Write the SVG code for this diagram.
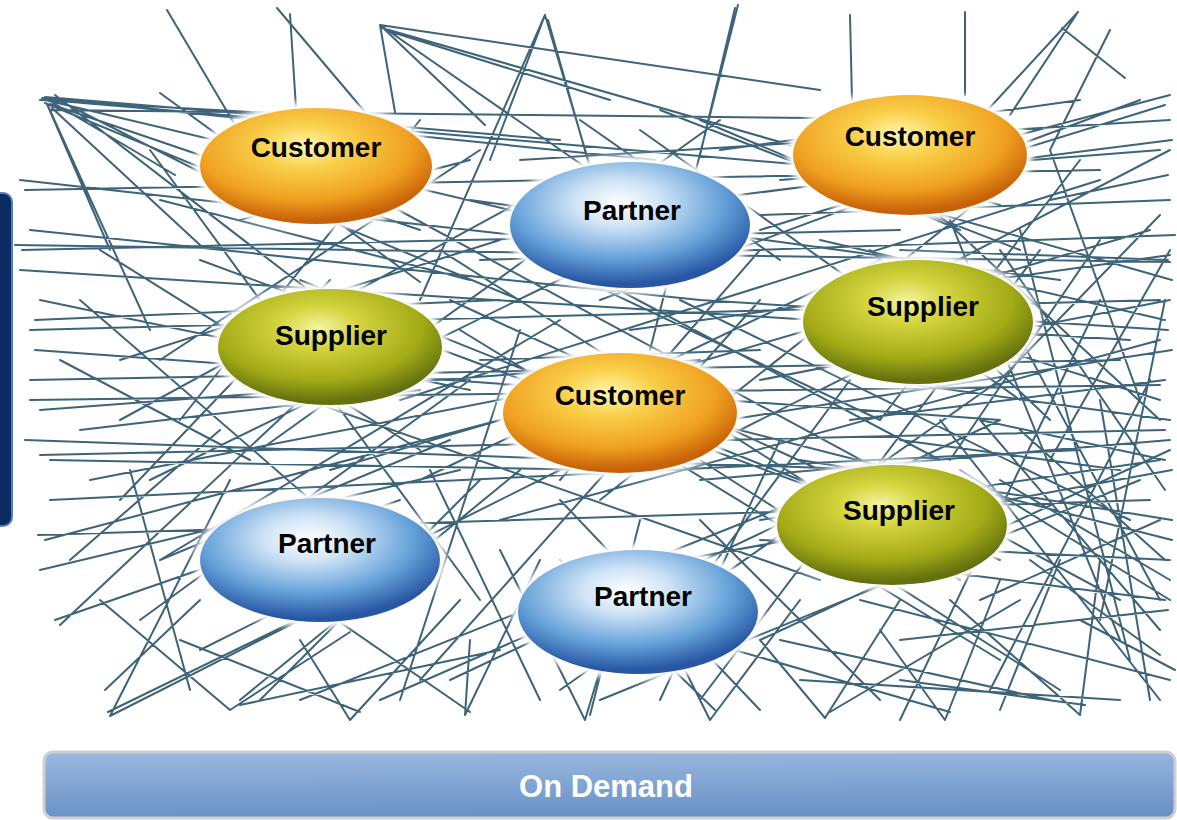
<svg xmlns="http://www.w3.org/2000/svg" width="1177" height="820" viewBox="0 0 1177 820">
<style>
.lbl{font-family:"Liberation Sans",Arial,sans-serif;font-weight:bold;font-size:28px;fill:#000;text-anchor:middle}
.mesh{fill:none;stroke:#3e6479;stroke-width:2;stroke-linecap:round}
.halo{fill:#fff;filter:url(#blur)}
</style>
<defs>
<filter id="blur" x="-20%" y="-20%" width="140%" height="140%"><feGaussianBlur stdDeviation="3"/></filter>
<radialGradient id="gCust" cx="45%" cy="33%" r="64%">
<stop offset="0" stop-color="#fff7b0"/><stop offset="0.3" stop-color="#f9d04a"/><stop offset="0.72" stop-color="#f0a020"/><stop offset="1" stop-color="#c86208"/>
</radialGradient>
<radialGradient id="gPart" cx="45%" cy="33%" r="64%">
<stop offset="0" stop-color="#ffffff"/><stop offset="0.28" stop-color="#d0e4f6"/><stop offset="0.68" stop-color="#66a2da"/><stop offset="1" stop-color="#2756a2"/>
</radialGradient>
<radialGradient id="gSupp" cx="45%" cy="33%" r="64%">
<stop offset="0" stop-color="#f4f4a0"/><stop offset="0.28" stop-color="#d4d43e"/><stop offset="0.72" stop-color="#a2aa16"/><stop offset="1" stop-color="#64720e"/>
</radialGradient>
<linearGradient id="gBar" x1="0" y1="0" x2="0.1" y2="1">
<stop offset="0" stop-color="#9ab9e0"/><stop offset="1" stop-color="#6a92c6"/>
</linearGradient>
</defs>
<rect x="0" y="0" width="1177" height="820" fill="#fff"/>
<rect id="sidebar" x="-12" y="193" width="24" height="333" rx="9" fill="#0b2c62" stroke="#5b7bb2" stroke-width="2"/>
<g id="connectors">
<path class="mesh" d="M45 97L330 128M45 97L560 140M48 100L805 165M40 100L250 112M50 104L420 230M52 108L200 245M45 100L700 255M55 95L380 345M48 106L150 330M42 98L655 160M50 110L1005 120M45 103L520 300M58 100L265 205M160 93L420 282M45 98L175 175M47 104L110 250
M167 10L235 125M277 8L365 112M290 14L296 108M380 25L395 112M380 25L485 125M382 28L1000 205M380 25L705 250M385 30L610 100M380 25L820 90M545 15L490 160M548 20L590 168M545 15L420 300M545 15L612 240M735 8L700 155M738 5L650 350M850 15L852 100M965 12L965 95M1078 12L1010 115M1078 12L960 140M1062 28L1125 78M1110 30L1050 150
M1170 95L1000 140M1140 100L600 300M1172 140L700 200M1170 200L760 215M1175 235L480 260M1168 260L900 250M1170 300L760 380M1165 320L820 240M1172 350L600 440M1160 400L940 330M1170 440L700 480M1165 460L980 420M1172 520L800 460M1170 580L1000 480M1165 600L850 560M1160 655L1030 560M1175 670L1080 620M1170 120L520 160M1168 175L1050 200M1170 255L630 330M1165 380L850 420M1172 470L680 560M1170 560L760 540M1168 610L900 640
M110 716L300 620M110 716L230 480M108 712L420 560M105 690L200 600M230 710L350 632M230 710L100 600M240 705L500 650M350 720L460 600M350 720L300 640M465 715L470 640M465 715L540 560M585 720L600 670M585 720L500 550M710 720L680 660M710 720L800 600M825 718L760 640M825 718L900 600M945 720L880 630M945 720L1000 580M1080 715L950 600M1080 715L1100 560M360 712L180 640M470 712L250 560M590 715L640 520M715 710L560 560M830 712L1020 600M950 712L700 640M1085 705L900 680M1120 700L800 680
M15 245L1170 262M22 250L900 230M20 180L650 250M25 190L1100 170M35 320L500 300M30 330L1160 300M30 400L1160 385M40 410L700 360M40 455L1165 430M50 460L600 470M38 535L1150 500M45 540L500 420M55 620L400 500M60 625L300 400M40 300L470 390M20 270L1130 340M30 230L700 300M35 350L1000 420M25 440L880 470M50 500L1080 450M40 570L460 470M30 380L1120 360
M150 150L480 600M200 260L900 520M120 420L560 180M260 450L720 120M400 400L1100 180M330 470L1150 230M380 200L1120 600M460 330L1000 660M500 520L1160 340M600 500L980 200M520 470L240 700M700 460L1060 690M760 300L420 680M850 380L650 650M1000 380L560 690M940 420L1160 700M1040 250L700 700M1100 300L900 720M300 280L1000 560M250 380L820 580M150 480L600 260M440 250L960 580M680 300L1130 520M420 480L880 260M560 320L160 560M760 520L1160 460M200 650L560 470M300 700L800 500M450 680L1000 420M600 700L1140 480M160 560L450 440M120 360L500 240M880 160L1160 420M950 220L1120 640M1000 300L1160 600M1080 160L880 420M80 300L380 560M90 480L600 380M640 130L1020 400M470 200L1060 280M420 120L180 420M480 150L160 360M600 280L940 460M1050 460L1170 250M780 180L1160 150M720 150L1080 100M660 110L1020 250M960 470L1170 600M700 560L380 700M780 640L1050 700
M1165 105L760 230M1170 150L900 290M1160 215L1000 380M1172 280L820 180M1168 330L700 300M1170 420L880 380M1165 490L1000 250M1172 540L700 420M1160 630L980 420M1170 450L760 640M1100 620L1165 300M1130 660L1020 230M1150 700L1100 400M990 690L1150 380M1050 150L1140 400M1100 240L950 460M1020 430L1165 560M900 440L1120 470M980 600L1160 520M860 600L1170 680M100 250L420 450M60 360L250 460M80 430L420 390M120 500L330 280M70 560L220 430M140 620L470 380M190 690L130 470M260 700L480 480M400 700L520 330M540 700L430 470M660 700L780 440M760 710L560 500M880 700L700 520M1000 710L1060 560M480 360L760 350M450 300L820 470M520 250L880 420M740 430L1000 300M760 250L560 480M870 250L1050 420M160 200L470 280M240 220L470 160M700 120L960 230M580 120L780 260"/>
</g>
<g id="customer1"><ellipse class="halo" cx="316" cy="166" rx="122" ry="64"/><ellipse cx="316" cy="166" rx="116" ry="58" fill="url(#gCust)"/><text class="lbl" x="316" y="157">Customer</text></g>
<g id="partner1"><ellipse class="halo" cx="630" cy="225" rx="126" ry="69"/><ellipse cx="630" cy="225" rx="120" ry="63" fill="url(#gPart)"/><text class="lbl" x="632" y="220">Partner</text></g>
<g id="customer2"><ellipse class="halo" cx="910" cy="155" rx="123" ry="66"/><ellipse cx="910" cy="155" rx="117" ry="60" fill="url(#gCust)"/><text class="lbl" x="910" y="146">Customer</text></g>
<g id="supplier1"><ellipse class="halo" cx="330" cy="347" rx="118" ry="64"/><ellipse cx="330" cy="347" rx="112" ry="58" fill="url(#gSupp)"/><text class="lbl" x="331" y="345">Supplier</text></g>
<g id="supplier2"><ellipse class="halo" cx="918" cy="322" rx="121" ry="68"/><ellipse cx="918" cy="322" rx="115" ry="62" fill="url(#gSupp)"/><text class="lbl" x="923" y="316">Supplier</text></g>
<g id="customer3"><ellipse class="halo" cx="620" cy="413" rx="123" ry="66"/><ellipse cx="620" cy="413" rx="117" ry="60" fill="url(#gCust)"/><text class="lbl" x="620" y="405">Customer</text></g>
<g id="supplier3"><ellipse class="halo" cx="892" cy="525" rx="121" ry="66"/><ellipse cx="892" cy="525" rx="115" ry="60" fill="url(#gSupp)"/><text class="lbl" x="899" y="520">Supplier</text></g>
<g id="partner2"><ellipse class="halo" cx="320" cy="560" rx="126" ry="68"/><ellipse cx="320" cy="560" rx="120" ry="62" fill="url(#gPart)"/><text class="lbl" x="327" y="553">Partner</text></g>
<g id="partner3"><ellipse class="halo" cx="638" cy="612" rx="126" ry="68"/><ellipse cx="638" cy="612" rx="120" ry="62" fill="url(#gPart)"/><text class="lbl" x="643" y="606">Partner</text></g>
<g id="ondemand"><rect x="44" y="752" width="1131" height="66" rx="9" fill="url(#gBar)" stroke="#cfcfcf" stroke-width="3"/><text x="606" y="797" font-family="Liberation Sans,Arial,sans-serif" font-weight="bold" font-size="31" fill="#fff" text-anchor="middle">On Demand</text></g>
</svg>
